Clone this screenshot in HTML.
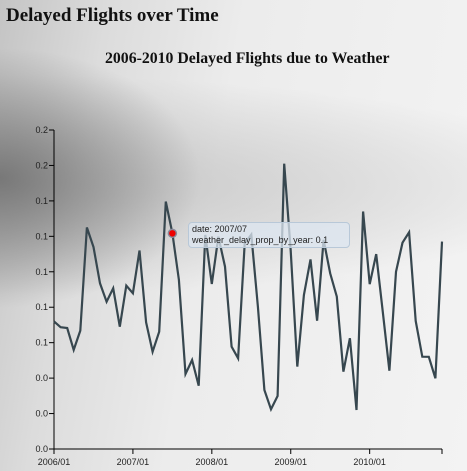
<!DOCTYPE html>
<html><head><meta charset="utf-8"><style>
html,body{margin:0;padding:0}
body{width:467px;height:471px;overflow:hidden;position:relative;font-family:"Liberation Serif",serif;
background:radial-gradient(ellipse 200px 130px at 0px 178px,rgba(100,100,100,0.75),rgba(100,100,100,0) 100%),
radial-gradient(ellipse 600px 110px at 0px 185px,rgba(160,160,160,0.55),rgba(160,160,160,0) 100%),
linear-gradient(100deg,#c4c4c4 0%,#dcdcdc 20%,#ececec 45%,#f3f3f3 100%);}
h1{position:absolute;left:6px;top:5px;margin:0;font-size:19px;font-weight:bold;color:#111}
h2{position:absolute;left:105px;top:50px;margin:0;font-size:15.8px;font-weight:bold;color:#111}
svg{position:absolute;left:0;top:0}
#tip{position:absolute;left:188px;top:222px;width:154px;height:22px;padding:1px 3px;background:rgba(220,230,240,0.75);border:1px solid #b8c8d8;border-radius:4px;font:9px "Liberation Sans",sans-serif;line-height:11px;color:#222}
</style></head><body>
<h1>Delayed Flights over Time</h1>
<h2>2006-2010 Delayed Flights due to Weather</h2>
<svg id="chart" width="467" height="471"></svg>
<div id="tip">date: 2007/07<br>weather_delay_prop_by_year: 0.1</div>
<script>
const values=[0.072,0.0687,0.0683,0.0559,0.0668,0.125,0.114,0.0935,0.0831,0.0907,0.069,0.0922,
0.0879,0.112,0.0715,0.0549,0.0662,0.1396,0.1217,0.0954,0.0423,0.0502,0.0357,0.1208,
0.0931,0.1198,0.1029,0.0577,0.0512,0.116,0.121,0.0803,0.0333,0.0224,0.0299,0.161,
0.112,0.0465,0.0869,0.107,0.0724,0.118,0.0991,0.086,0.0436,0.0625,0.022,0.134,
0.093,0.110,0.0773,0.0442,0.100,0.1164,0.1223,0.0722,0.0521,0.052,0.0399,0.117];
const yTicks=[0,0.02,0.04,0.06,0.08,0.10,0.12,0.14,0.16,0.18];
const xTickLabels=["2006/01","2007/01","2008/01","2009/01","2010/01"];
const highlightIndex=18;
const svg=document.getElementById('chart');
const NS='http://www.w3.org/2000/svg';
const x0=54,x1=442,y0=449,y1=130;
const xs=i=>x0+(x1-x0)*i/(values.length-1);
const ys=v=>y0-(y0-y1)*v/0.18;
function mk(t,a){const e=document.createElementNS(NS,t);for(const k in a)e.setAttribute(k,a[k]);svg.appendChild(e);return e;}
let e=mk('line',{x1:x0,y1:y1,x2:x0,y2:y0,stroke:'#000','stroke-width':1});


e=mk('line',{x1:x0,y1:y0,x2:x1,y2:y0,stroke:'#000','stroke-width':1});


yTicks.forEach(v=>{const y=ys(v);
 mk('line',{x1:x0-5,y1:y,x2:x0,y2:y,stroke:'#000'});
 const t=mk('text',{x:x0-6,y:y+3,'text-anchor':'end','font-size':9,'font-family':'Liberation Sans, sans-serif',fill:'#222'});
 t.textContent=v.toFixed(1);
 
 
});
xTickLabels.forEach((l,k)=>{const x=xs(k*12);
 mk('line',{x1:x,y1:y0,x2:x,y2:y0+5,stroke:'#000'});
 const t=mk('text',{x:x,y:y0+16,'text-anchor':'middle','font-size':9,'font-family':'Liberation Sans, sans-serif',fill:'#222'});
 t.textContent=l;
 
 
});
mk('line',{x1:x1,y1:y0,x2:x1,y2:y0+5,stroke:'#000'});
const p=mk('path',{d:values.map((v,i)=>(i?'L':'M')+xs(i).toFixed(1)+','+ys(v).toFixed(1)).join(''),fill:'none',stroke:'#37474f','stroke-width':2.2});


const c=mk('circle',{cx:xs(highlightIndex),cy:ys(values[highlightIndex]),r:4,fill:'#e00','stroke':'#889','stroke-width':1.5});


</script>
</body></html>
